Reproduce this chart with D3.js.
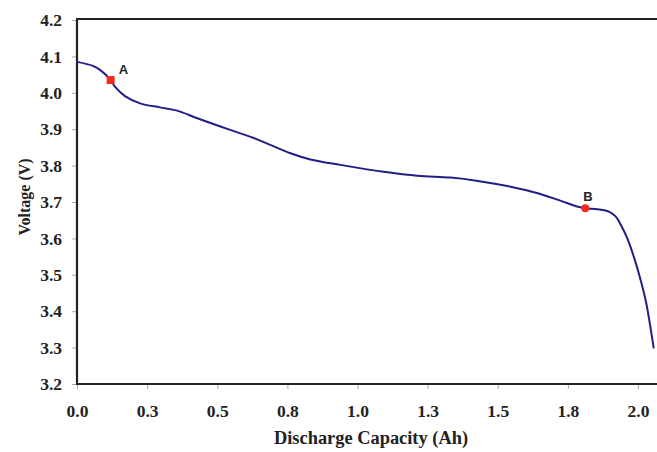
<!DOCTYPE html>
<html>
<head>
<meta charset="utf-8">
<script src="https://cdn.jsdelivr.net/npm/d3@7"></script>
<style>
  html, body { margin: 0; padding: 0; background: #fff; }
  svg { display: block; }
</style>
</head>
<body>
<svg id="chart" width="657" height="452"></svg>
<script>
// Discharge curve: capacity (Ah) vs. cell voltage (V)
const capacity = [0.000, 0.057, 0.082, 0.120, 0.136, 0.171, 0.225, 0.296, 0.357, 0.429,
  0.546, 0.619, 0.689, 0.761, 0.832, 0.939, 1.093, 1.214, 1.332, 1.429,
  1.546, 1.643, 1.725, 1.786, 1.812, 1.856, 1.898, 1.921, 1.939, 1.963,
  1.987, 2.011, 2.029, 2.046, 2.056];
const voltage = [4.085, 4.074, 4.063, 4.035, 4.016, 3.991, 3.971, 3.960, 3.951, 3.930,
  3.898, 3.879, 3.857, 3.834, 3.817, 3.802, 3.783, 3.772, 3.767, 3.758,
  3.742, 3.724, 3.703, 3.687, 3.683, 3.680, 3.673, 3.660, 3.637, 3.598,
  3.545, 3.481, 3.424, 3.348, 3.298];

// Marked points on the curve
const markerNames = ["A", "B"];
const markerCapacity = [0.120, 1.812];
const markerVoltage = [4.035, 3.683];
const markerShapes = ["square", "circle"];

// Axis ticks
const xTickValues = [0, 0.25, 0.5, 0.75, 1.0, 1.25, 1.5, 1.75, 2.0];
const xTickLabels = ["0.0", "0.3", "0.5", "0.8", "1.0", "1.3", "1.5", "1.8", "2.0"];
const yTickValues = [3.2, 3.3, 3.4, 3.5, 3.6, 3.7, 3.8, 3.9, 4.0, 4.1, 4.2];
const yTickLabels = ["3.2", "3.3", "3.4", "3.5", "3.6", "3.7", "3.8", "3.9", "4.0", "4.1", "4.2"];

const svg = d3.select("#chart");
const W = 657, H = 452;
const plotLeft = 77, plotTop = 19, plotBottom = 384;

const x = d3.scaleLinear().domain([0, 2.0]).range([plotLeft, 638]);
const y = d3.scaleLinear().domain([3.2, 4.2]).range([plotBottom, plotTop + 1]);

const serif = "'Liberation Serif', 'Times New Roman', serif";
const ink = "#222";

// Y axis ticks and labels
const yAxis = d3.axisLeft(y)
  .tickValues(yTickValues)
  .tickFormat((d, i) => yTickLabels[i])
  .tickSize(5)
  .tickPadding(10);
const gy = svg.append("g").attr("transform", `translate(${plotLeft},0)`).call(yAxis);
gy.select(".domain").remove();
gy.selectAll(".tick line").attr("stroke", "#aaa").attr("stroke-width", 1);
gy.selectAll(".tick text")
  .attr("font-family", serif).attr("font-weight", "bold")
  .attr("font-size", 17.5).attr("fill", ink);

// X axis ticks and labels
const xAxis = d3.axisBottom(x)
  .tickValues(xTickValues)
  .tickFormat((d, i) => xTickLabels[i])
  .tickSize(5)
  .tickPadding(16);
const gx = svg.append("g").attr("transform", `translate(0,${plotBottom})`).call(xAxis);
gx.select(".domain").remove();
gx.selectAll(".tick line").attr("stroke", "#aaa").attr("stroke-width", 1);
gx.selectAll(".tick text")
  .attr("font-family", serif).attr("font-weight", "bold")
  .attr("font-size", 17.5).attr("fill", ink);

// Frame: left axis, bottom axis, top border
const frame = svg.append("g").attr("stroke", ink).attr("stroke-width", 2.2).attr("fill", "none");
frame.append("line").attr("x1", plotLeft).attr("x2", plotLeft).attr("y1", plotTop).attr("y2", plotBottom + 1);
frame.append("line").attr("x1", plotLeft - 1).attr("x2", W).attr("y1", plotBottom).attr("y2", plotBottom);
frame.append("line").attr("x1", plotLeft - 1).attr("x2", W).attr("y1", plotTop).attr("y2", plotTop);

// Curve
const pts = capacity.map((c, i) => [c, voltage[i]]);
const line = d3.line().x(d => x(d[0])).y(d => y(d[1])).curve(d3.curveCatmullRom.alpha(0.5));
svg.append("path")
  .attr("d", line(pts))
  .attr("fill", "none")
  .attr("stroke", "#1f1f85")
  .attr("stroke-width", 2);

// Markers and their labels
markerNames.forEach((name, i) => {
  const cx = x(markerCapacity[i]), cy = y(markerVoltage[i]);
  if (markerShapes[i] === "square") {
    svg.append("rect").attr("x", cx - 4).attr("y", cy - 4).attr("width", 8).attr("height", 8)
      .attr("fill", "#f42a1e");
  } else {
    svg.append("circle").attr("cx", cx).attr("cy", cy).attr("r", 4).attr("fill", "#f42a1e");
  }
  svg.append("text")
    .attr("x", i === 0 ? cx + 8 : cx - 2)
    .attr("y", i === 0 ? cy - 6 : cy - 7)
    .attr("font-family", "'Liberation Sans', Arial, sans-serif")
    .attr("font-weight", "bold").attr("font-size", 13).attr("fill", ink)
    .text(name);
});

// Axis titles
svg.append("text")
  .attr("x", 371).attr("y", 444)
  .attr("text-anchor", "middle")
  .attr("font-family", serif).attr("font-weight", "bold")
  .attr("font-size", 18.4).attr("fill", ink)
  .text("Discharge Capacity (Ah)");

svg.append("text")
  .attr("transform", "translate(30,197) rotate(-90)")
  .attr("text-anchor", "middle")
  .attr("font-family", serif).attr("font-weight", "bold")
  .attr("font-size", 16).attr("fill", ink)
  .text("Voltage (V)");
</script>
</body>
</html>
